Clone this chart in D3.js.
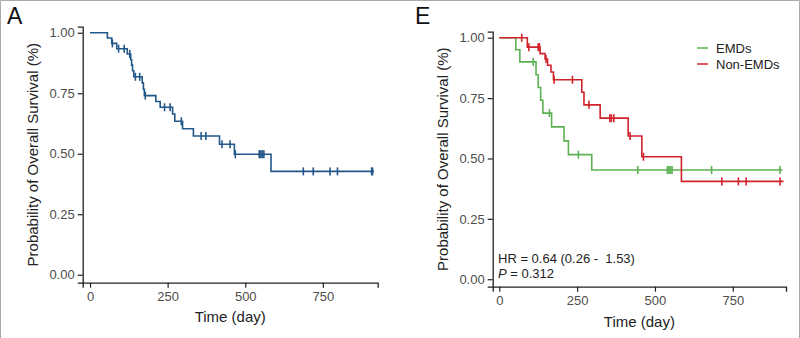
<!DOCTYPE html>
<html lang="en">
<head>
    <meta charset="UTF-8">
    <title>Overall Survival</title>
    <script src="https://d3js.org/d3.v7.min.js"></script>
    <style>
        body { margin: 0; background: white; }
        svg { display: block; }
        text { font-family: "Liberation Sans", Arial, sans-serif; }
        .tick-label { font-size: 13px; fill: #4d4d4d; }
        .axis-title { font-size: 15px; fill: #222; }
        .panel-tag { font-size: 23px; fill: #111; }
        .note { font-size: 13px; fill: #222; white-space: pre; }
    </style>
</head>
<body>
    <svg width="800" height="338"></svg>

    <script>
        // shared axis ticks
        const timeTicks = [0, 250, 500, 750];
        const survTicks = [0, 0.25, 0.5, 0.75, 1];

        // panel A: all patients
        const allEventDays = [56, 70, 86, 120, 131, 134, 137, 141, 168, 172, 175, 212, 226, 266, 273, 298, 333, 417, 465, 583];
        const allSurv = [0.978, 0.956, 0.934, 0.912, 0.889, 0.866, 0.843, 0.818, 0.793, 0.766, 0.740, 0.716, 0.692, 0.664, 0.634, 0.603, 0.573, 0.539, 0.498, 0.427];
        const allCensorDays = [72, 92, 110, 128, 146, 160, 178, 240, 258, 294, 358, 373, 425, 451, 468, 545, 550, 555, 560, 687, 719, 773, 797, 907, 910];
        const allLastDay = 915;

        // panel E: EMDs vs Non-EMDs
        const groupNames = ["EMDs", "Non-EMDs"];
        const emdEventDays = [53, 66, 118, 125, 133, 140, 168, 208, 222, 297];
        const emdSurv = [0.950, 0.900, 0.847, 0.794, 0.741, 0.688, 0.631, 0.573, 0.516, 0.452];
        const emdCensorDays = [109, 161, 254, 445, 540, 545, 550, 555, 682, 902];
        const emdLastDay = 910;

        const nonEmdEventDays = [90, 131, 147, 155, 166, 174, 265, 272, 324, 414, 458, 585];
        const nonEmdSurv = [0.961, 0.934, 0.912, 0.886, 0.858, 0.826, 0.774, 0.722, 0.667, 0.593, 0.507, 0.405];
        const nonEmdCensorDays = [72, 95, 125, 129, 150, 176, 235, 288, 355, 360, 368, 420, 463, 715, 768, 793, 902];
        const nonEmdLastDay = 913;

        const hrText = "HR = 0.64 (0.26 -  1.53)";
        const pText = "0.312";

        const svg = d3.select("svg");

        // thin frame around the figure
        svg.append("path")
            .attr("d", "M0.5,338 V0.5 H799.5 V338")
            .attr("fill", "none")
            .attr("stroke", "#aaa")
            .attr("stroke-width", 1);

        function survAt(days, surv, t) {
            let s = 1;
            for (let i = 0; i < days.length; i++) if (days[i] <= t) s = surv[i];
            return s;
        }

        function makeCurve(days, surv, censors, lastDay, color) {
            const pts = [[0, 1]].concat(days.map((d, i) => [d, surv[i]]));
            pts.push([lastDay, surv[surv.length - 1]]);
            return { pts, censors: censors.map(c => [c, survAt(days, surv, c)]), color };
        }

        function drawPanel(p) {
            const g = svg.append("g");
            const x = d3.scaleLinear().domain(p.xDomain).range(p.xRange);
            const y = d3.scaleLinear().domain(p.yDomain).range(p.yRange);

            // axes
            const xAxis = d3.axisBottom(x).tickValues(timeTicks).tickSize(5).tickPadding(4).tickFormat(d3.format("d"));
            const yAxis = d3.axisLeft(y).tickValues(survTicks).tickSize(5).tickPadding(3).tickFormat(d3.format(".2f"));

            const gx = g.append("g").attr("transform", `translate(0,${p.yRange[0]})`).call(xAxis);
            const gy = g.append("g").attr("transform", `translate(${p.xRange[0]},0)`).call(yAxis);
            [gx, gy].forEach(a => {
                a.select(".domain").attr("stroke", "#222").attr("stroke-width", 1.3);
                a.selectAll(".tick line").attr("stroke", "#222").attr("stroke-width", 1.2);
                a.selectAll(".tick text").attr("class", "tick-label").attr("font-size", null).attr("font-family", null);
            });

            // curves
            const line = d3.line().x(d => x(d[0])).y(d => y(d[1])).curve(d3.curveStepAfter);
            p.curves.forEach(c => {
                g.append("path")
                    .attr("d", line(c.pts))
                    .attr("fill", "none")
                    .attr("stroke", c.color)
                    .attr("stroke-width", 1.6);
                g.selectAll(null).data(c.censors).enter().append("line")
                    .attr("x1", d => x(d[0])).attr("x2", d => x(d[0]))
                    .attr("y1", d => y(d[1]) - 4).attr("y2", d => y(d[1]) + 4)
                    .attr("stroke", c.color)
                    .attr("stroke-width", 1.6);
            });

            // titles
            const xMid = (p.xRange[0] + p.xRange[1]) / 2;
            const yMid = (p.yRange[0] + p.yRange[1]) / 2;
            g.append("text").attr("class", "axis-title")
                .attr("x", xMid).attr("y", p.xTitleY)
                .attr("text-anchor", "middle")
                .text("Time (day)");
            g.append("text").attr("class", "axis-title")
                .attr("transform", `translate(${p.yTitleX},${yMid}) rotate(-90)`)
                .attr("text-anchor", "middle")
                .text("Probability of Overall Survival (%)");
            g.append("text").attr("class", "panel-tag")
                .attr("x", p.tagX).attr("y", 24)
                .text(p.tag);

            return { g, x, y };
        }

        drawPanel({
            tag: "A", tagX: 7,
            xDomain: [-23.6, 926.6], xRange: [82.7, 377.7],
            yDomain: [-0.033, 1.025], yRange: [282.7, 26.7],
            xTitleY: 322, yTitleX: 38,
            curves: [makeCurve(allEventDays, allSurv, allCensorDays, allLastDay, "#22578a")]
        });

        const greenCol = "#5cb152", redCol = "#d0222a";
        const pe = drawPanel({
            tag: "E", tagX: 415,
            xDomain: [-21.2, 921], xRange: [492.7, 786],
            yDomain: [-0.031, 1.025], yRange: [286.7, 31.7],
            xTitleY: 327, yTitleX: 448,
            curves: [
                makeCurve(emdEventDays, emdSurv, emdCensorDays, emdLastDay, greenCol),
                makeCurve(nonEmdEventDays, nonEmdSurv, nonEmdCensorDays, nonEmdLastDay, redCol)
            ]
        });

        // legend
        const legend = pe.g.append("g");
        [greenCol, redCol].forEach((col, i) => {
            const ly = 48 + i * 16;
            legend.append("line")
                .attr("x1", 697).attr("x2", 708).attr("y1", ly).attr("y2", ly)
                .attr("stroke", col).attr("stroke-width", 1.5);
            legend.append("text").attr("class", "note")
                .attr("x", 716).attr("y", ly + 4.5)
                .text(groupNames[i]);
        });

        // hazard ratio annotation
        pe.g.append("text").attr("class", "note")
            .attr("x", 498).attr("y", 263)
            .text(hrText);
        const pLine = pe.g.append("text").attr("class", "note")
            .attr("x", 498).attr("y", 278);
        pLine.append("tspan").attr("font-style", "italic").text("P");
        pLine.append("tspan").text(" = " + pText);
    </script>
</body>
</html>
